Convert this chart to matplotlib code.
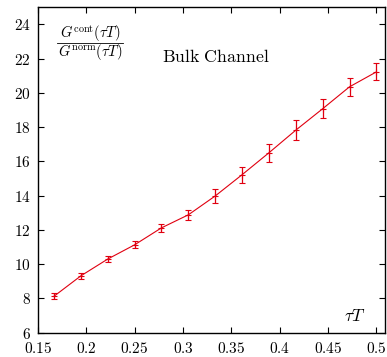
import matplotlib
matplotlib.use("Agg")
import matplotlib.pyplot as plt
import numpy as np

plt.rcParams['mathtext.fontset'] = 'cm'
plt.rcParams['font.family'] = 'serif'
plt.rcParams['font.serif'] = ['DejaVu Serif']
plt.rcParams['axes.formatter.use_mathtext'] = True

# tau*T = n/36
tau_T = np.array([6, 7, 8, 9, 10, 11, 12, 13, 14, 15, 16, 17, 18]) / 36.0
ratio = [8.13, 9.32, 10.30, 11.13, 12.12, 12.88, 13.98, 15.22, 16.50, 17.82, 19.07, 20.35, 21.22]
err = [0.16, 0.16, 0.20, 0.20, 0.25, 0.30, 0.40, 0.48, 0.52, 0.57, 0.56, 0.52, 0.50]

xticks = [0.15, 0.2, 0.25, 0.3, 0.35, 0.4, 0.45, 0.5]
xticklabels = ['0.15', '0.2', '0.25', '0.3', '0.35', '0.4', '0.45', '0.5']
yticks = [6, 8, 10, 12, 14, 16, 18, 20, 22, 24]

fig = plt.figure(figsize=(3.87, 3.57), dpi=100)
ax = fig.add_axes([0.098, 0.068, 0.897, 0.912])

ax.errorbar(tau_T, ratio, yerr=err, color='#e00010', lw=0.8, elinewidth=0.9,
            capsize=2.5, capthick=0.9, marker='+', ms=4, mew=0.8)

ax.set_xlim(0.15, 0.509)
ax.set_ylim(6, 25)
ax.set_xticks(xticks)
ax.set_xticklabels(['$' + t + '$' for t in xticklabels])
ax.set_yticks(yticks)
ax.set_yticklabels(['$%d$' % t for t in yticks])
ax.tick_params(direction='in', top=True, right=True, length=4, width=0.8,
               labelsize=11)
ax.tick_params(axis='x', pad=6)
ax.tick_params(axis='y', pad=5)
for s in ax.spines.values():
    s.set_linewidth(1.0)

# y label drawn as a stacked fraction (compact, like TeX text-style)
ax.text(0.1495, 0.906, r'$G^{\mathrm{cont}}(\tau T)$', transform=ax.transAxes,
        fontsize=10.5, va='baseline', ha='center')
ax.plot([0.055, 0.244], [0.889, 0.889], transform=ax.transAxes, color='k',
        lw=0.6, clip_on=False)
ax.text(0.1495, 0.849, r'$G^{\mathrm{norm}}(\tau T)$', transform=ax.transAxes,
        fontsize=10.5, va='baseline', ha='center')

ax.text(0.513, 0.846, r'$\mathrm{Bulk\ Channel}$', transform=ax.transAxes,
        fontsize=12.8, va='center', ha='center')
ax.text(0.913, 0.051, r'$\tau T$', transform=ax.transAxes, fontsize=12.5,
        va='center', ha='center')

fig.savefig('out.png', dpi=100)
